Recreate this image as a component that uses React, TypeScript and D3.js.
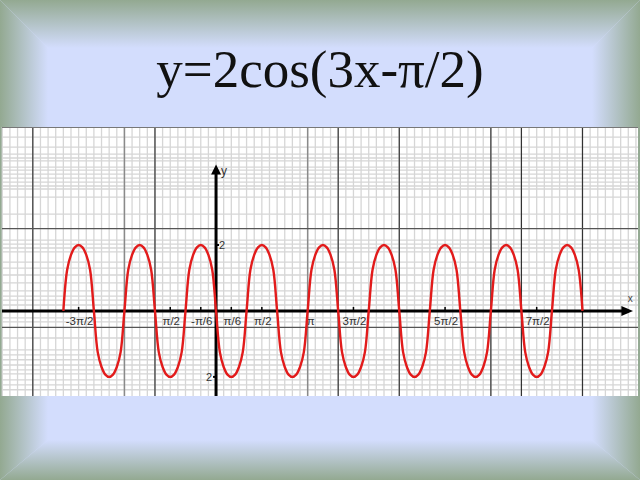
import * as d3 from "d3";

// each half-period of the red curve is one lobe; starts in π/6 units, sign = up/down
const lobeStart = [-10, -8, -6, -4, -2, 0, 2, 4, 6, 8, 10, 12, 14, 16, 18, 20, 22];
const lobeSign = [1, -1, 1, -1, 1, -1, 1, -1, 1, -1, 1, -1, 1, -1, 1, -1, 1];
// lobe profile: offset inside the lobe (π/6 units) and height
const lobeOffset = [0, 0.25, 0.5, 0.75, 1, 1.25, 1.5, 1.75];
const lobeValue = [0, 1.25, 1.7, 1.93, 2, 1.93, 1.7, 1.25];

// x tick labels (as printed) and their positions in π/6 units
const tickLabels = ["-3π/2", "π/2", "-π/6", "π/6", "π/2", "π", "3π/2", "5π/2", "7π/2"];
const tickPos = [-9, -3, -1, 1, 3, 6, 9, 15, 21];

// grid lines: verticals in π/6 units, horizontals in y units
const darkV = [-12, -4, 8, 12, 18, 20, 24];
const midV = [-6, 6];
const darkH = [2.5, -0.5];
const lightH = [5.27, 4.97, 4.76, 4.64, 4.55, 4.36, 4.27, 4.15, 4.03, 3.91, 3.79, 3.7, 3.45, 2.94, 2.15, 2.03, 1.91, 1.79, 1.48, 1.3, 1.09, 0.85, 0.61, 0.45, 0.33, 0.18, -0.21, -0.33, -0.82, -1.18, -1.33, -1.48, -1.64, -1.79, -1.91, -2.09, -2.24, -2.39];

const W = 640;
const H = 480;
const P6 = Math.PI / 6;

export default function App() {
  const left = 2, right = 638, top = 127, bottom = 396;
  const x = d3.scaleLinear().domain([-7.34, 14.47]).range([left, right]);
  const y = d3.scaleLinear().domain([-2.58, 5.58]).range([bottom, top]);

  const lightV = d3.range(-28, 58).map((k) => k * (Math.PI / 12));

  const pts: [number, number][] = [];
  lobeStart.forEach((s, i) => {
    lobeOffset.forEach((o, j) => pts.push([s + o, lobeSign[i] * lobeValue[j]]));
  });
  pts.push([lobeStart[lobeStart.length - 1] + 2, 0]);

  const line = d3
    .line<[number, number]>()
    .x((d) => x(d[0] * P6))
    .y((d) => y(d[1]))
    .curve(d3.curveCatmullRom.alpha(0.5));

  const x0 = x(0);
  const y0 = y(0);
  const edge = "#93a991";
  const blue = "#d3ddfd";

  return (
    <svg width={W} height={H} style={{ position: "absolute", left: 0, top: 0 }}>
      <defs>
        <linearGradient id="gt" x1="0" y1="0" x2="0" y2="1">
          <stop offset="0" stopColor={edge} />
          <stop offset="1" stopColor={blue} />
        </linearGradient>
        <linearGradient id="gb" x1="0" y1="1" x2="0" y2="0">
          <stop offset="0" stopColor={edge} />
          <stop offset="1" stopColor={blue} />
        </linearGradient>
        <linearGradient id="gl" x1="0" y1="0" x2="1" y2="0">
          <stop offset="0" stopColor={edge} />
          <stop offset="1" stopColor={blue} />
        </linearGradient>
        <linearGradient id="gr" x1="1" y1="0" x2="0" y2="0">
          <stop offset="0" stopColor={edge} />
          <stop offset="1" stopColor={blue} />
        </linearGradient>
      </defs>
      <rect width={W} height={H} fill={blue} />
      <polygon points={`0,0 ${W},0 ${W - 48},48 48,48`} fill="url(#gt)" />
      <polygon points={`0,${H} ${W},${H} ${W - 48},${H - 40} 48,${H - 40}`} fill="url(#gb)" />
      <polygon points={`0,0 48,48 48,${H - 40} 0,${H}`} fill="url(#gl)" />
      <polygon points={`${W},0 ${W - 48},48 ${W - 48},${H - 40} ${W},${H}`} fill="url(#gr)" />

      <text x={320} y={87} textAnchor="middle" fontFamily="Liberation Serif" fontSize={53} fill="#111">
        y=2cos(3x-π/2)
      </text>

      <g>
        <rect x={left} y={top} width={right - left} height={bottom - top} fill="#fff" />
        {lightV.map((v, i) => (
          <line key={"lv" + i} x1={x(v)} x2={x(v)} y1={top} y2={bottom} stroke="#d6d6d6" strokeWidth={1.3} />
        ))}
        {lightH.map((v, i) => (
          <line key={"lh" + i} x1={left} x2={right} y1={y(v)} y2={y(v)} stroke="#d6d6d6" strokeWidth={1.3} />
        ))}
        {midV.map((v, i) => (
          <line key={"mv" + i} x1={x(v * P6)} x2={x(v * P6)} y1={top} y2={bottom} stroke="#8a8a8a" strokeWidth={1.5} />
        ))}
        {darkV.map((v, i) => (
          <line key={"dv" + i} x1={x(v * P6)} x2={x(v * P6)} y1={top} y2={bottom} stroke="#333" strokeWidth={1.2} />
        ))}
        {darkH.map((v, i) => (
          <line key={"dh" + i} x1={left} x2={right} y1={y(v)} y2={y(v)} stroke="#555" strokeWidth={1.3} />
        ))}
        <line x1={left} x2={right} y1={top + 0.5} y2={top + 0.5} stroke="#777" strokeWidth={1} />

        {/* axes */}
        <line x1={left} x2={x(14.0)} y1={y0} y2={y0} stroke="#000" strokeWidth={3} />
        <polygon points={`${x(14.3)},${y0} ${x(13.9)},${y0 - 5} ${x(13.9)},${y0 + 5}`} fill="#000" />
        <text x={x(14.2)} y={y0 - 9} textAnchor="middle" fontFamily="Liberation Sans" fontSize={10} fill="#444">x</text>

        <line x1={x0} x2={x0} y1={bottom} y2={y(4.3)} stroke="#000" strokeWidth={3} />
        <polygon points={`${x0},${y(4.44)} ${x0 - 5},${y(4.14)} ${x0 + 5},${y(4.14)}`} fill="#000" />
        <text x={x0 + 5} y={y(4.12)} fontFamily="Liberation Sans" fontSize={12} fill="#333">y</text>

        {tickPos.map((v, i) => (
          <g key={"t" + i}>
            {tickLabels[i] !== "π" && (
              <line x1={x(v * P6)} x2={x(v * P6)} y1={y0 - 4} y2={y0} stroke="#000" strokeWidth={1.5} />
            )}
            <text
              x={x(v * P6) + (tickLabels[i] === "π" ? 3 : 1)}
              y={y0 + 14}
              textAnchor="middle"
              fontFamily="Liberation Sans"
              fontSize={11.5}
              fill="#333"
            >
              {tickLabels[i]}
            </text>
          </g>
        ))}

        <line x1={x0} x2={x0 + 3} y1={y(2)} y2={y(2)} stroke="#000" strokeWidth={2} />
        <text x={x0 + 3} y={y(2) + 4} fontFamily="Liberation Sans" fontSize={11} fill="#333">2</text>
        <line x1={x0 - 3} x2={x0} y1={y(-2)} y2={y(-2)} stroke="#000" strokeWidth={2} />
        <text x={x0 - 4} y={y(-2) + 4} textAnchor="end" fontFamily="Liberation Sans" fontSize={11} fill="#333">2</text>

        <path d={line(pts) || ""} fill="none" stroke="#e21b1b" strokeWidth={2.4} />
      </g>
    </svg>
  );
}
